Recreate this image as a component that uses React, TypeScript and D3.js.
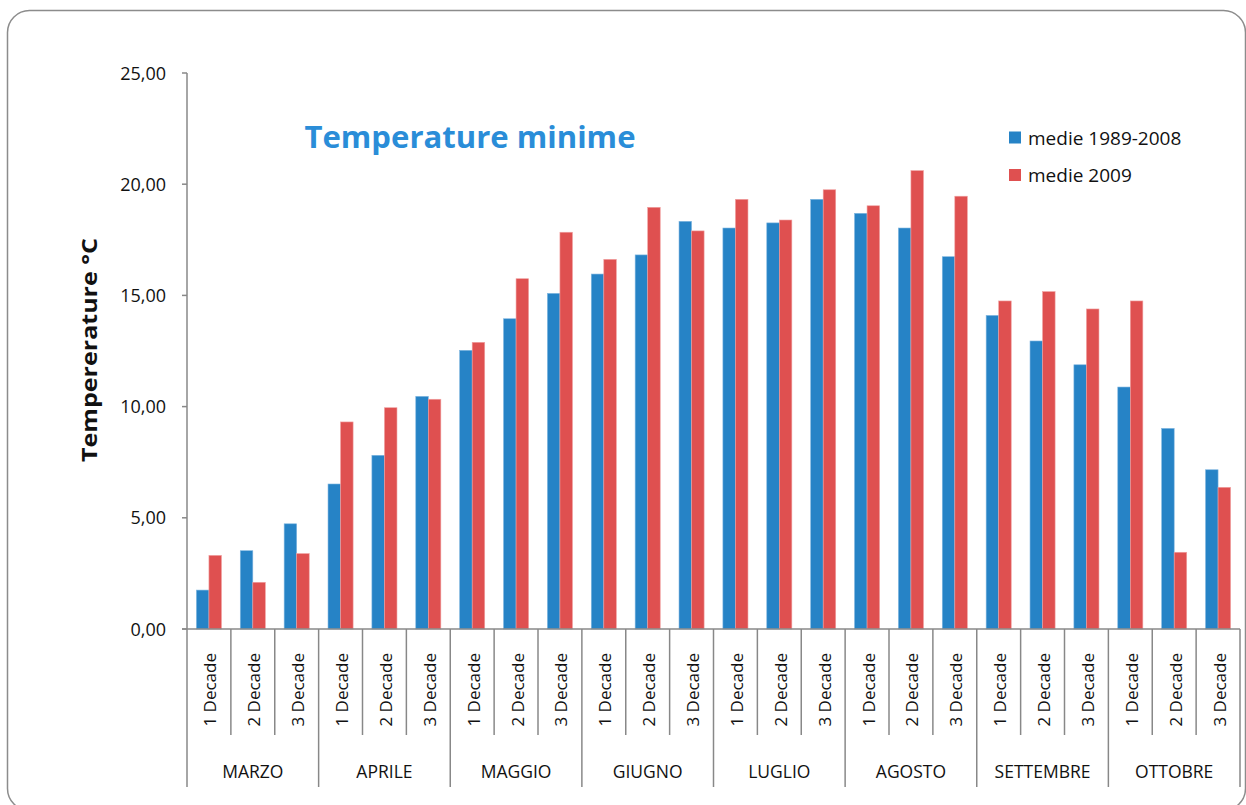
import React from "react";
import * as d3 from "d3";

const months = ["MARZO", "APRILE", "MAGGIO", "GIUGNO", "LUGLIO", "AGOSTO", "SETTEMBRE", "OTTOBRE"];
const decades = ["1 Decade", "2 Decade", "3 Decade"];
const seriesNames = ["medie 1989-2008", "medie 2009"];
const medie19892008 = [
  1.75, 3.52, 4.73,
  6.52, 7.81, 10.46,
  12.53, 13.95, 15.09,
  15.96, 16.82, 18.33,
  18.03, 18.26, 19.32,
  18.69, 18.03, 16.74,
  14.1, 12.95, 11.88,
  10.88, 9.02, 7.16,
];
const medie2009 = [
  3.31, 2.1, 3.39,
  9.31, 9.95, 10.33,
  12.89, 15.75, 17.84,
  16.62, 18.96, 17.9,
  19.32, 18.39, 19.75,
  19.03, 20.61, 19.46,
  14.75, 15.17, 14.39,
  14.75, 3.45, 6.37,
];
const yTicks = [0, 5, 10, 15, 20, 25];
const colors = ["#2683C6", "#DF5050"];

const W = 1246;
const H = 805;
const left = 187;
const right = 1240;
const top = 73;
const bottom = 629;

export default function App() {
  const cats = months.flatMap((m) => decades.map((d) => `${m}|${d}`));
  const x = d3.scaleBand<string>().domain(cats).range([left, right]).padding(0);
  const inner = d3
    .scaleBand<string>()
    .domain(seriesNames)
    .range([0, x.bandwidth()])
    .paddingInner(0)
    .paddingOuter(0.75);
  const y = d3.scaleLinear().domain([0, 25]).range([bottom, top]);
  const fmt = (v: number) => d3.format(".2f")(v).replace(".", ",");
  const series = [medie19892008, medie2009];
  const axisColor = "#888888";
  const font = "'Open Sans', sans-serif";

  return (
    <svg
      width={W}
      height={H}
      style={{ position: "absolute", left: 0, top: 0, background: "#fff" }}
    >
      <rect x={7.5} y={10.5} width={1238} height={800} rx={22} ry={22} fill="#fff" stroke="#8c8c8c" strokeWidth={1.5} />

      {/* bars */}
      {series.map((vals, si) =>
        vals.map((v, i) => (
          <rect
            key={`${si}-${i}`}
            x={(x(cats[i]) as number) + (inner(seriesNames[si]) as number)}
            y={y(v)}
            width={inner.bandwidth()}
            height={y(0) - y(v)}
            fill={colors[si]}
            stroke={si === 0 ? "#7fb6e0" : "#f0a0a0"}
            strokeWidth={0.6}
          />
        ))
      )}

      {/* y axis */}
      <line x1={left} x2={left} y1={top} y2={bottom} stroke={axisColor} strokeWidth={1.5} />
      {yTicks.map((t) => (
        <g key={t}>
          <line x1={left - 5} x2={left} y1={y(t)} y2={y(t)} stroke={axisColor} strokeWidth={1.5} />
          <text x={166} y={y(t) + 6.5} textAnchor="end" fontFamily={font} fontSize={18} fill="#111">
            {fmt(t)}
          </text>
        </g>
      ))}

      {/* x axis */}
      <line x1={left - 5} x2={right} y1={bottom} y2={bottom} stroke={axisColor} strokeWidth={1.5} />
      {cats.map((c, i) => {
        const x0 = x(c) as number;
        const isMonthStart = i % 3 === 0;
        return (
          <line
            key={`sep-${i}`}
            x1={x0}
            x2={x0}
            y1={bottom}
            y2={isMonthStart ? 787 : 735}
            stroke={axisColor}
            strokeWidth={1.5}
          />
        );
      })}
      <line x1={right} x2={right} y1={bottom} y2={787} stroke={axisColor} strokeWidth={1.5} />
      {cats.map((c, i) => {
        const cx = (x(c) as number) + x.bandwidth() / 2;
        return (
          <text
            key={`dl-${i}`}
            transform={`translate(${cx + 1},653) rotate(-90)`}
            textAnchor="end"
            dominantBaseline="central"
            fontFamily={font}
            fontSize={17}
            fill="#111"
          >
            {decades[i % 3]}
          </text>
        );
      })}
      {months.map((m, mi) => {
        const x0 = x(cats[mi * 3]) as number;
        const x1 = (x(cats[mi * 3 + 2]) as number) + x.bandwidth();
        return (
          <text
            key={m}
            x={(x0 + x1) / 2}
            y={778}
            textAnchor="middle"
            fontFamily={font}
            fontSize={17.5}
            fill="#111"
          >
            {m}
          </text>
        );
      })}

      {/* title */}
      <text
        x={470}
        y={148}
        textAnchor="middle"
        fontFamily={font}
        fontWeight="bold"
        fontSize={31}
        fill="#2A8DD8"
        textLength={331}
        lengthAdjust="spacingAndGlyphs"
      >
        Temperature minime
      </text>

      {/* y title */}
      <text
        transform="translate(97,350) rotate(-90)"
        textAnchor="middle"
        fontFamily={font}
        fontWeight="bold"
        fontSize={22}
        fill="#111"
        textLength={224}
        lengthAdjust="spacingAndGlyphs"
      >
        Tempererature °C
      </text>

      {/* legend */}
      {seriesNames.map((s, si) => (
        <g key={s} transform={`translate(1009,${131.5 + si * 37.5})`}>
          <rect x={0} y={0} width={12} height={12} fill={colors[si]} />
          <text x={19} y={13} fontFamily={font} fontSize={19} fill="#111">
            {s}
          </text>
        </g>
      ))}
    </svg>
  );
}
